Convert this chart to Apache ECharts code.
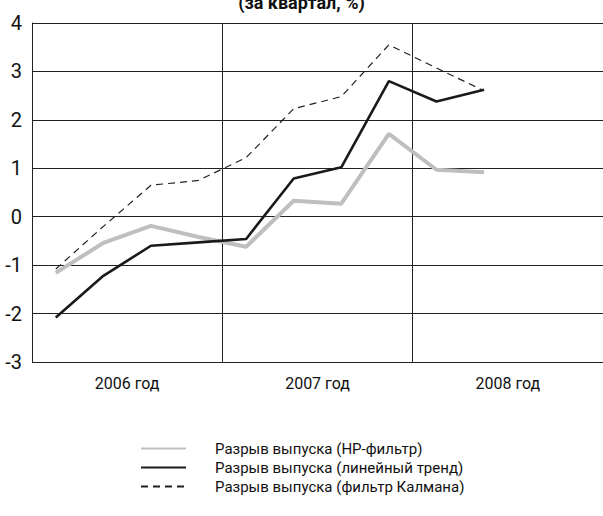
<!DOCTYPE html>
<html><head><meta charset="utf-8">
<script src="https://cdn.jsdelivr.net/npm/echarts@6/dist/echarts.min.js"></script>
<style>html,body{margin:0;padding:0;background:#fff}#c{width:603px;height:516px}</style>
</head><body><div id="c"></div>
<script>
var quarters = ['2006 Q1','2006 Q2','2006 Q3','2006 Q4','2007 Q1','2007 Q2','2007 Q3','2007 Q4','2008 Q1','2008 Q2','2008 Q3','2008 Q4'];
var years = ['2006 год','2007 год','2008 год'];
var hpGap = [-1.16,-0.54,-0.19,-0.42,-0.62,0.33,0.27,1.71,0.97,0.92];
var linearGap = [-2.08,-1.22,-0.60,-0.53,-0.46,0.79,1.02,2.80,2.38,2.62];
var kalmanGap = [-1.08,-0.20,0.65,0.75,1.22,2.23,2.48,3.55,3.07,2.60];
var seriesNames = ['Разрыв выпуска (HP-фильтр)','Разрыв выпуска (линейный тренд)','Разрыв выпуска (фильтр Калмана)'];
var titleText = '(за квартал, %)';
var FONT = 'Roboto,"Liberation Sans",sans-serif';
var legendTops = [441, 460, 479];
var chart = echarts.init(document.getElementById('c'), null, {renderer:'svg'});
var legends = seriesNames.map(function(n, i){
  return {orient:'horizontal',left:140,top:legendTops[i],padding:0,itemWidth:45,itemHeight:14,
    itemStyle:{opacity:0},
    textStyle:{fontFamily:FONT,fontSize:15,color:'#111',padding:[0,0,0,24]},
    data:[n]};
});
chart.setOption({
  animation:false,
  backgroundColor:'#fff',
  title:{text:titleText,left:'center',top:-12,textStyle:{fontFamily:FONT,fontSize:18,fontWeight:'bold',color:'#111'}},
  grid:{left:32,right:0,top:23,bottom:154},
  xAxis:[
    {type:'category',data:quarters,boundaryGap:true,show:false},
    {type:'category',data:years,boundaryGap:true,position:'bottom',
     axisLine:{show:false},axisTick:{show:false},
     axisLabel:{margin:13,fontFamily:FONT,fontSize:16,color:'#111'},
     splitLine:{show:true,lineStyle:{color:'#222',width:1}}}
  ],
  yAxis:{type:'value',min:-3,max:4,interval:1,
    axisLine:{show:true,lineStyle:{color:'#222',width:1}},axisTick:{show:false},
    axisLabel:{margin:10,fontFamily:FONT,fontSize:20,color:'#111'},
    splitLine:{show:true,lineStyle:{color:'#222',width:1}}},
  legend:legends,
  series:[
    {name:seriesNames[0],type:'line',data:hpGap,showSymbol:false,symbol:'none',
     lineStyle:{color:'#bfbfbf',width:4},itemStyle:{color:'#bfbfbf'}},
    {name:seriesNames[1],type:'line',data:linearGap,showSymbol:false,symbol:'none',
     lineStyle:{color:'#1a1a1a',width:2.6},itemStyle:{color:'#1a1a1a'}},
    {name:seriesNames[2],type:'line',data:kalmanGap,showSymbol:false,symbol:'none',
     lineStyle:{color:'#222',width:1.2,type:[7,5]},itemStyle:{color:'#222'}}
  ]
});
</script></body></html>
